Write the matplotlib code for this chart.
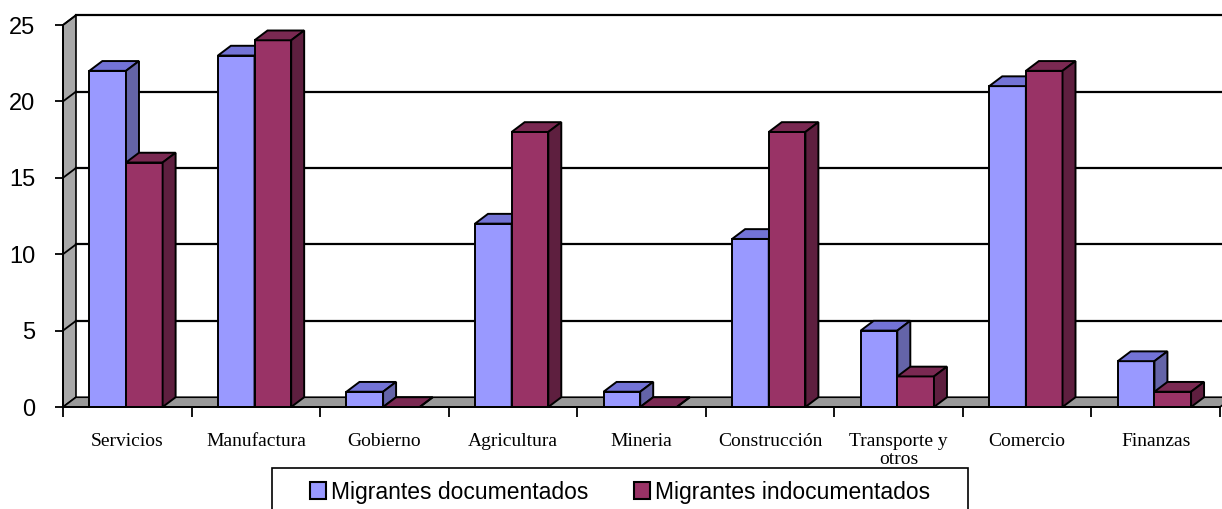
import matplotlib
matplotlib.use('Agg')
import matplotlib.pyplot as plt
from matplotlib.patches import Polygon, Rectangle, Patch

categories = ['Servicios', 'Manufactura', 'Gobierno', 'Agricultura', 'Mineria',
              'Construcción', 'Transporte y\notros', 'Comercio', 'Finanzas']
documentados = [22, 23, 1, 12, 1, 11, 5, 21, 3]
indocumentados = [16, 24, 0, 18, 0, 18, 2, 22, 1]
series_names = ['Migrantes documentados', 'Migrantes indocumentados']
yticks = [0, 5, 10, 15, 20, 25]

# colours: front, top, side
blue = ('#9999FF', '#7373D6', '#6464A8')
red = ('#993366', '#7A2952', '#5E1F3F')

W, H = 1222, 509
fig = plt.figure(figsize=(W / 100, H / 100), dpi=100)
ax = fig.add_axes([63 / W, (H - 407) / H, 1157 / W, 382 / H])
n = len(categories)
ax.set_xlim(0, n)
ax.set_ylim(0, 25)

dx, dy = 0.101, 0.64   # depth offset in data units
ymax = 25

# side wall, floor
ax.add_patch(Polygon([(0, 0), (dx, dy), (dx, ymax + dy), (0, ymax)],
                     closed=True, fc='#A8A8A8', ec='black', lw=1.2, clip_on=False, zorder=1))
ax.add_patch(Polygon([(0, 0), (n, 0), (n + dx, dy), (dx, dy)],
                     closed=True, fc='#999999', ec='black', lw=1.2, clip_on=False, zorder=1))
# gridlines on back and side wall
for v in yticks[1:]:
    ax.plot([dx, n + dx], [v + dy, v + dy], color='black', lw=1.6, clip_on=False, zorder=1.5)
    ax.plot([0, dx], [v, v + dy], color='black', lw=1.3, clip_on=False, zorder=1.5)

bw = 0.285
left0 = 0.205


def draw_bars(vals, offset, cols, z):
    xs = [i + left0 + offset + bw / 2 for i in range(n)]
    bars = ax.bar(xs, vals, width=bw, color=cols[0], edgecolor='black', lw=1.4,
                  zorder=z, clip_on=False)
    for b in bars:
        x0, x1, h = b.get_x(), b.get_x() + b.get_width(), b.get_height()
        ax.add_patch(Polygon([(x0, h), (x0 + dx, h + dy), (x1 + dx, h + dy), (x1, h)],
                             closed=True, fc=cols[1], ec='black', lw=1.4, zorder=z, clip_on=False))
        ax.add_patch(Polygon([(x1, 0), (x1, h), (x1 + dx, h + dy), (x1 + dx, dy)],
                             closed=True, fc=cols[2], ec='black', lw=1.4, zorder=z, clip_on=False))


draw_bars(documentados, 0, blue, 3)
draw_bars(indocumentados, bw, red, 4)

for s in ['top', 'right']:
    ax.spines[s].set_visible(False)
for s in ['left', 'bottom']:
    ax.spines[s].set_color('black')
    ax.spines[s].set_linewidth(1.4)
    ax.spines[s].set_zorder(5)
ax.set_facecolor('none')

ax.set_yticks(yticks)
ax.set_yticklabels([str(v) for v in yticks], fontsize=17, family='Liberation Sans')
ax.tick_params(axis='y', length=6, width=1.3, pad=14)
ax.set_xticks(range(n + 1))
ax.set_xticklabels([])
ax.tick_params(axis='x', which='major', length=7, width=1.3)
ax.set_xticks([i + 0.5 for i in range(n)], minor=True)
ax.set_xticklabels(categories, minor=True, fontsize=14, family='Liberation Serif',
                   linespacing=1.05, va='top')
ax.tick_params(axis='x', which='minor', length=0, pad=19)

# legend
fig.patches.append(Rectangle((272 / W, -0.05), 696 / W, (H - 468) / H + 0.05,
                             transform=fig.transFigure, fill=False, ec='black', lw=1.2))
handles = [Patch(fc=blue[0], ec='black', lw=1.5), Patch(fc=red[0], ec='black', lw=1.5)]
fig.legend(handles, series_names, loc='center', bbox_to_anchor=(620 / W, (H - 492) / H),
           ncol=2, frameon=False, prop={'family': 'Liberation Sans', 'size': 16.5},
           handlelength=0.7, handleheight=0.7, handletextpad=0.2, columnspacing=2.0)

fig.savefig('out.png', dpi=100)
